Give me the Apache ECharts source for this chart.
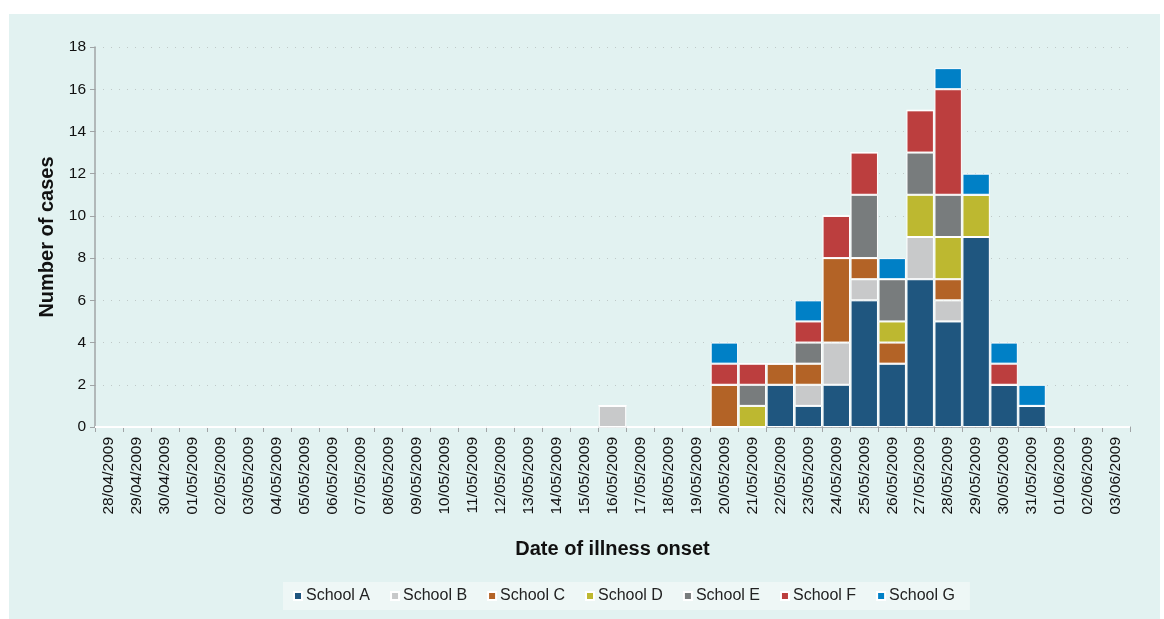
<!DOCTYPE html>
<html>
<head>
<meta charset="utf-8">
<script src="https://cdn.jsdelivr.net/npm/echarts@6/dist/echarts.min.js"></script>
<style>html,body{margin:0;padding:0;background:#fff;}#c{width:1164px;height:619px;}</style>
</head>
<body>
<div id="c"></div>
<script>
var categories = ["28/04/2009","29/04/2009","30/04/2009","01/05/2009","02/05/2009","03/05/2009","04/05/2009","05/05/2009","06/05/2009","07/05/2009","08/05/2009","09/05/2009","10/05/2009","11/05/2009","12/05/2009","13/05/2009","14/05/2009","15/05/2009","16/05/2009","17/05/2009","18/05/2009","19/05/2009","20/05/2009","21/05/2009","22/05/2009","23/05/2009","24/05/2009","25/05/2009","26/05/2009","27/05/2009","28/05/2009","29/05/2009","30/05/2009","31/05/2009","01/06/2009","02/06/2009","03/06/2009"];
// index 22 = 20/05 ... index 33 = 31/05
var schoolA = [0,0,0,0,0,0,0,0,0,0,0,0,0,0,0,0,0,0,0,0,0,0, 0,0,2,1,2,6,3,7,5,9,2,1, 0,0,0];
var schoolB = [0,0,0,0,0,0,0,0,0,0,0,0,0,0,0,0,0,0,1,0,0,0, 0,0,0,1,2,1,0,2,1,0,0,0, 0,0,0];
var schoolC = [0,0,0,0,0,0,0,0,0,0,0,0,0,0,0,0,0,0,0,0,0,0, 2,0,1,1,4,1,1,0,1,0,0,0, 0,0,0];
var schoolD = [0,0,0,0,0,0,0,0,0,0,0,0,0,0,0,0,0,0,0,0,0,0, 0,1,0,0,0,0,1,2,2,2,0,0, 0,0,0];
var schoolE = [0,0,0,0,0,0,0,0,0,0,0,0,0,0,0,0,0,0,0,0,0,0, 0,1,0,1,0,3,2,2,2,0,0,0, 0,0,0];
var schoolF = [0,0,0,0,0,0,0,0,0,0,0,0,0,0,0,0,0,0,0,0,0,0, 1,1,0,1,2,2,0,2,5,0,1,0, 0,0,0];
var schoolG = [0,0,0,0,0,0,0,0,0,0,0,0,0,0,0,0,0,0,0,0,0,0, 1,0,0,1,0,0,1,0,1,1,1,1, 0,0,0];
var seriesNames = ["School A","School B","School C","School D","School E","School F","School G"];
var yTicks = [0,2,4,6,8,10,12,14,16,18];

var colors = ["#1F567F","#C8C9CA","#B36326","#BDB830","#787C7D","#BC3E3E","#0080C6"];
var allData = [schoolA,schoolB,schoolC,schoolD,schoolE,schoolF,schoolG];
var font = "Liberation Sans, Arial, sans-serif";

var chart = echarts.init(document.getElementById('c'));
chart.setOption({
  animation: false,
  backgroundColor: '#ffffff',
  color: colors,
  graphic: [{
    type: 'rect', z: -10, silent: true,
    shape: {x: 9, y: 14, width: 1151, height: 605},
    style: {fill: '#E2F2F1'}
  }],
  grid: {left: 95, right: 34, top: 47, bottom: 192},
  legend: {
    data: seriesNames,
    left: 283, top: 582,
    width: 760,
    padding: [6, 15, 6, 10],
    backgroundColor: '#EEF7F6',
    itemWidth: 8, itemHeight: 8, itemGap: 20,
    icon: 'rect',
    textStyle: {fontFamily: font, fontSize: 16, color: '#222', padding: [0,0,0,-1]}
  },
  xAxis: {
    type: 'category',
    data: categories,
    boundaryGap: true,
    name: 'Date of illness onset',
    nameLocation: 'middle',
    nameGap: 112,
    nameTextStyle: {fontFamily: font, fontSize: 20, fontWeight: 'bold', color: '#111'},
    axisLine: {lineStyle: {color: '#A0A4A6', width: 1.5}},
    axisTick: {show: true, length: 5, lineStyle: {color: '#A0A4A6'}},
    axisLabel: {rotate: 90, interval: 0, fontFamily: font, fontSize: 15.5, color: '#111', margin: 10}
  },
  yAxis: {
    type: 'value',
    min: 0, max: 18, interval: 2,
    name: 'Number of cases',
    nameLocation: 'middle',
    nameGap: 38,
    nameTextStyle: {fontFamily: font, fontSize: 20, fontWeight: 'bold', color: '#111'},
    axisLine: {show: true, lineStyle: {color: '#A0A4A6', width: 1.5}},
    axisTick: {show: true, length: 5, lineStyle: {color: '#A0A4A6'}},
    axisLabel: {fontFamily: font, fontSize: 15.5, color: '#111', margin: 9,
      formatter: function(v){ return yTicks.indexOf(v) >= 0 ? String(v) : ''; }},
    splitLine: {show: true, lineStyle: {color: '#BFC9C8', type: [1, 7], width: 1}}
  },
  series: seriesNames.map(function(n, i){
    return {
      name: n, type: 'bar', stack: 'total',
      data: allData[i],
      barCategoryGap: '2%',
      itemStyle: {color: colors[i], borderColor: '#ffffff', borderWidth: 1}
    };
  })
});
</script>
</body>
</html>
